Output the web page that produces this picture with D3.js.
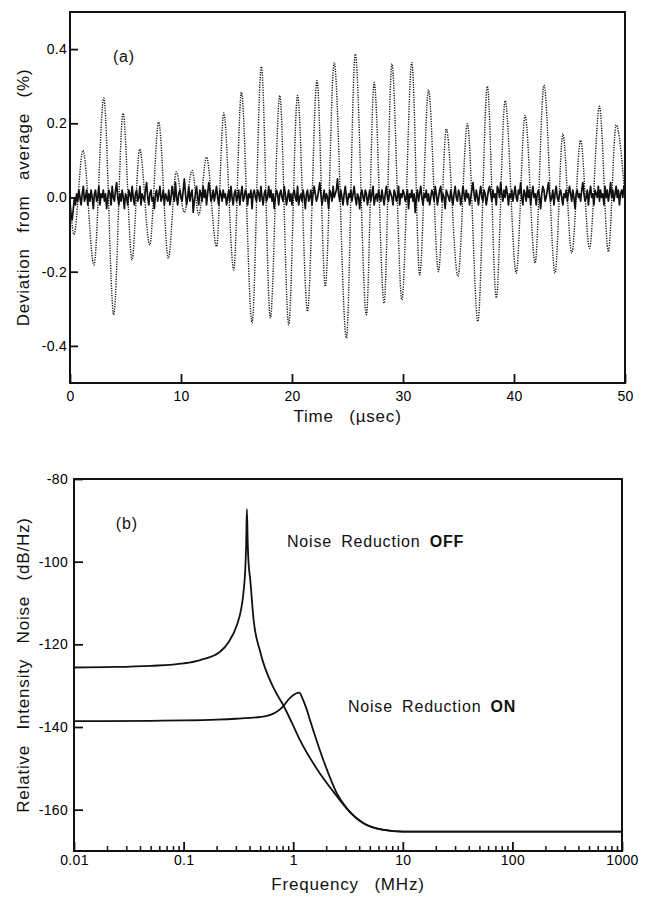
<!DOCTYPE html>
<html><head><meta charset="utf-8">
<script src="https://cdn.jsdelivr.net/npm/d3@7"></script>
<style>
html,body{margin:0;padding:0;background:#fff;}
svg{display:block;font-family:"Liberation Sans",Arial,Helvetica,sans-serif;}
.tick text{font-size:14px;fill:#000;letter-spacing:0.3px;}
.title{font-size:17px;letter-spacing:0.8px;word-spacing:10px;fill:#111;}
.note{font-size:16px;letter-spacing:0.8px;word-spacing:4px;fill:#111;}
</style></head><body>
<svg id="c" width="645" height="897"></svg>
<script>
// ---------- Panel (a) data ----------
const oscTime = [0, 0.35, 1.17, 2.16, 3.04, 3.94, 4.78, 5.59, 6.28, 7.18,
  7.99, 8.86, 9.58, 10.3, 11.0, 11.6, 12.3, 13.2, 13.85, 14.75,
  15.44, 16.4, 17.24, 18.05, 18.9, 19.7, 20.5, 21.4, 22.25, 23.0,
  23.8, 24.9, 25.7, 26.7, 27.4, 28.3, 29.0, 29.9, 30.8, 31.5,
  32.3, 33.2, 33.9, 34.95, 35.8, 36.75, 37.6, 38.4, 39.2, 40.2,
  41.0, 41.9, 42.7, 43.7, 44.4, 45.2, 46.0, 46.8, 47.7, 48.5,
  49.2, 50];
const oscValue = [0.0, -0.10, 0.127, -0.182, 0.268, -0.316, 0.227, -0.168, 0.13, -0.128,
  0.203, -0.164, 0.069, -0.04, 0.073, -0.047, 0.109, -0.132, 0.228, -0.195,
  0.284, -0.338, 0.353, -0.325, 0.275, -0.343, 0.275, -0.307, 0.315, -0.24,
  0.364, -0.379, 0.387, -0.316, 0.31, -0.285, 0.36, -0.276, 0.364, -0.209,
  0.29, -0.2, 0.185, -0.213, 0.199, -0.334, 0.30, -0.271, 0.261, -0.204,
  0.221, -0.177, 0.303, -0.204, 0.172, -0.15, 0.154, -0.137, 0.246, -0.146,
  0.196, 0.0];
const noiseStep = 0.1; // µs between samples of the reduced-noise trace
const noiseValue = [
  -0.02,-0.05,-0.06,-0.03,0.00,-0.02,0.01,-0.01,0.02,0.00,
  -0.02,0.01,0.03,-0.01,0.00,0.02,-0.02,0.01,-0.01,0.02,
  0.00,-0.03,0.01,0.02,-0.01,0.00,0.03,-0.02,0.01,0.00,
  0.02,-0.01,0.01,-0.03,0.00,0.02,0.01,-0.02,0.03,0.00,
  -0.01,0.02,0.04,0.00,-0.02,0.01,-0.01,0.02,0.00,-0.03,
  0.01,0.00,-0.02,0.02,0.01,-0.01,0.03,0.00,-0.02,0.01,
  0.02,-0.01,0.00,0.03,-0.02,0.01,0.00,-0.01,0.02,0.04,
  0.00,-0.02,0.01,0.02,-0.01,0.00,-0.03,0.01,0.02,-0.01,
  0.01,0.03,-0.01,0.00,0.02,-0.02,0.01,0.00,-0.01,0.02,
  -0.02,0.00,0.03,0.01,-0.01,0.04,0.00,-0.02,0.01,0.02,
  0.00,-0.01,0.02,0.05,0.01,-0.02,0.00,0.03,-0.01,0.01,
  0.02,-0.04,-0.01,0.01,0.03,0.00,-0.02,0.02,0.01,-0.01,
  0.03,0.00,0.02,-0.02,0.01,0.04,0.02,-0.01,0.00,0.02,
  -0.01,0.01,0.03,0.00,-0.02,0.02,0.01,-0.01,0.02,0.00,
  0.01,-0.02,0.00,0.02,-0.01,0.03,0.00,-0.02,0.01,0.02,
  -0.01,0.00,0.02,-0.02,0.01,0.03,-0.01,0.00,0.02,0.01,
  -0.02,0.01,0.00,0.02,-0.03,0.01,0.02,0.00,-0.01,0.02,
  0.01,-0.01,0.03,0.00,-0.02,0.01,0.02,-0.01,0.00,0.03,
  0.00,0.02,-0.01,0.01,-0.03,0.00,0.02,0.01,-0.02,0.01,
  0.02,0.00,-0.01,0.03,0.01,-0.02,0.00,0.02,-0.01,0.01,
  -0.02,0.01,0.02,0.00,-0.01,0.03,-0.02,0.00,0.01,-0.01,
  0.02,0.00,-0.03,0.01,0.02,-0.01,0.00,0.02,-0.02,0.01,
  0.03,0.01,-0.01,0.00,0.02,0.04,0.01,-0.02,0.00,0.02,
  -0.01,0.01,0.00,-0.03,0.02,0.01,-0.01,0.03,0.00,0.01,
  0.02,0.05,0.01,-0.01,0.02,0.00,-0.02,0.01,0.03,0.00,
  -0.02,0.01,0.00,0.02,-0.01,0.01,0.03,0.00,-0.02,0.01,
  0.00,-0.03,0.01,0.02,0.00,-0.01,0.02,0.01,-0.02,0.00,
  0.02,-0.01,0.01,0.03,-0.02,0.00,0.01,-0.01,0.02,0.00,
  -0.01,0.02,0.00,-0.02,0.01,0.03,0.00,-0.01,0.02,0.01,
  0.00,-0.02,0.02,0.01,-0.01,0.00,0.03,-0.02,0.01,0.00,
  0.02,0.01,-0.01,0.00,0.02,-0.03,0.01,0.00,0.02,-0.01,
  0.01,-0.04,0.00,0.02,-0.01,0.01,0.03,0.00,-0.02,0.01,
  0.00,0.02,-0.01,0.01,-0.02,0.00,0.02,0.01,-0.01,0.03,
  0.01,-0.02,0.00,0.02,0.03,-0.01,0.01,0.00,-0.03,0.02,
  0.01,0.00,-0.01,0.02,0.00,-0.02,0.01,0.03,0.00,-0.01,
  0.02,0.01,-0.02,0.00,0.03,0.01,-0.01,0.02,0.00,0.01,
  -0.02,0.00,0.02,0.04,0.01,-0.01,0.02,0.00,-0.02,0.01,
  0.03,0.00,-0.01,0.02,0.01,-0.02,0.00,0.02,0.03,0.01,
  -0.01,0.02,0.00,0.01,-0.02,0.03,0.02,0.00,0.04,0.01,
  -0.01,0.02,0.00,0.03,0.01,-0.02,0.01,0.00,0.02,-0.01,
  0.01,0.03,0.00,-0.01,0.02,0.01,0.04,0.00,-0.02,0.02,
  0.01,-0.01,0.03,0.00,0.02,-0.02,0.01,0.03,0.00,0.01,
  -0.02,0.01,0.02,0.00,-0.03,0.01,0.03,0.02,-0.01,0.00,
  0.02,0.04,0.01,-0.01,0.00,0.02,-0.02,0.01,0.03,0.00,
  -0.01,0.01,0.02,0.00,-0.02,0.01,0.00,0.02,-0.01,0.01,
  0.03,0.01,-0.01,0.02,0.00,-0.03,0.01,0.02,0.00,0.01,
  -0.01,0.02,0.04,0.01,-0.01,0.00,0.02,-0.02,0.01,0.03,
  0.00,0.01,-0.02,0.02,0.01,0.00,0.03,-0.01,0.02,0.00,
  0.01,-0.02,0.03,0.00,0.02,-0.01,0.01,0.04,0.00,0.02,
  -0.01,0.01,0.03,0.00,0.02,-0.02,0.01,0.02,0.00,0.03,
  0.01];
const timeTicks = [0, 10, 20, 30, 40, 50];
const devTicks = [-0.4, -0.2, 0.0, 0.2, 0.4];

// ---------- Panel (b) data ----------
const offFreq = [0.01, 0.02, 0.05, 0.1, 0.142, 0.215, 0.26, 0.306, 0.335, 0.352,
  0.365, 0.372, 0.378, 0.385, 0.392, 0.405, 0.434, 0.5, 0.66, 0.815,
  0.97, 1.16, 1.64, 2.33, 3.09, 4.38, 6.7, 10, 100, 1000];
const offDb = [-125.6, -125.5, -125.2, -124.6, -123.8, -121.8, -119.3, -115.4, -111.5, -107.4,
  -102.0, -96.2, -87.3, -96.0, -100.5, -104.2, -113.8, -121.8, -130.5, -134.8,
  -138.9, -143.3, -150.1, -155.7, -159.8, -163.3, -164.9, -165.3, -165.3, -165.3];
const onFreq = [0.01, 0.05, 0.1, 0.2, 0.3, 0.4, 0.575, 0.79, 0.94, 1.06,
  1.14, 1.22, 1.33, 1.43, 1.89, 2.51, 3.09, 4.38, 6.7, 10, 100, 1000];
const onDb = [-138.6, -138.5, -138.4, -138.2, -138.0, -137.8, -137.3, -135.3, -132.9, -131.9,
  -131.7, -133.2, -135.8, -138.5, -148.1, -156.1, -159.7, -163.3, -164.9, -165.3, -165.3, -165.3];
const freqTicks = [0.01, 0.1, 1, 10, 100, 1000];
const freqTickLabels = ["0.01", "0.1", "1", "10", "100", "1000"];
const minorMultipliers = [2, 3, 4, 5, 6, 7, 8, 9];
const rinTicks = [-160, -140, -120, -100, -80];

// ---------- Drawing ----------
const svg = d3.select("#c");
const ink = "#111";

// Panel (a)
const xa = d3.scaleLinear().domain([0, 50]).range([70, 625]);
const ya = d3.scaleLinear().domain([-0.5, 0.5]).range([383, 12]);
const ga = svg.append("g");

ga.append("g").attr("transform", `translate(0,${ya(-0.5)})`)
  .call(d3.axisBottom(xa).tickValues(timeTicks).tickSizeInner(-9).tickSizeOuter(0).tickPadding(8).tickFormat(d => String(d)))
  .call(g => g.select(".domain").remove())
  .call(g => g.selectAll(".tick line").attr("stroke", ink).attr("stroke-width", 1.8));
ga.append("g").attr("transform", `translate(${xa(0)},0)`)
  .call(d3.axisLeft(ya).tickValues(devTicks).tickSizeInner(-8).tickSizeOuter(0).tickPadding(3).tickFormat(d => d.toFixed(1)))
  .call(g => g.select(".domain").remove())
  .call(g => g.selectAll(".tick line").attr("stroke", ink).attr("stroke-width", 1.8));

ga.append("rect").attr("x", xa(0)).attr("y", ya(0.5))
  .attr("width", xa(50) - xa(0)).attr("height", ya(-0.5) - ya(0.5))
  .attr("fill", "none").attr("stroke", ink).attr("stroke-width", 2);

const osc = oscTime.map((t, i) => [t, oscValue[i]]);
ga.append("path").datum(osc)
  .attr("d", d3.line().x(d => xa(d[0])).y(d => ya(d[1])).curve(d3.curveMonotoneX))
  .attr("fill", "none").attr("stroke", ink).attr("stroke-width", 1.4)
  .attr("stroke-dasharray", "1.2,1.3");

const noise = noiseValue.map((v, i) => [i * noiseStep, v]);
ga.append("path").datum(noise)
  .attr("d", d3.line().x(d => xa(d[0])).y(d => ya(d[1])))
  .attr("fill", "none").attr("stroke", ink).attr("stroke-width", 1.7)
  .attr("stroke-linejoin", "round");

ga.append("text").attr("class", "note").attr("x", xa(3.87)).attr("y", ya(0.365)).text("(a)");
ga.append("text").attr("class", "title").attr("text-anchor", "middle")
  .attr("x", (xa(0) + xa(50)) / 2).attr("y", 422).text("Time (\u00B5sec)");
ga.append("text").attr("class", "title").attr("text-anchor", "middle")
  .attr("transform", `translate(29,${(ya(-0.5) + ya(0.5)) / 2}) rotate(-90)`)
  .text("Deviation from average (%)");

// Panel (b)
const xb = d3.scaleLog().domain([0.01, 1000]).range([74, 622]);
const yb = d3.scaleLinear().domain([-170, -80]).range([851, 479]);
const gb = svg.append("g");

const minorTicks = [];
freqTicks.slice(0, -1).forEach(dec => minorMultipliers.forEach(m => minorTicks.push(dec * m)));

gb.append("g").attr("transform", `translate(0,${yb(-170)})`)
  .call(d3.axisBottom(xb).tickValues(minorTicks).tickSizeInner(-5).tickSizeOuter(0).tickFormat(""))
  .call(g => g.select(".domain").remove())
  .call(g => g.selectAll(".tick line").attr("stroke", ink).attr("stroke-width", 1.5));
gb.append("g").attr("transform", `translate(0,${yb(-170)})`)
  .call(d3.axisBottom(xb).tickValues(freqTicks).tickSizeInner(-9).tickSizeOuter(0).tickPadding(4)
    .tickFormat((d, i) => freqTickLabels[i]))
  .call(g => g.select(".domain").remove())
  .call(g => g.selectAll(".tick line").attr("stroke", ink).attr("stroke-width", 1.8));
gb.append("g").attr("transform", `translate(${xb(0.01)},0)`)
  .call(d3.axisLeft(yb).tickValues(rinTicks).tickSizeInner(-9).tickSizeOuter(0).tickPadding(6).tickFormat(d => String(d)))
  .call(g => g.select(".domain").remove())
  .call(g => g.selectAll(".tick line").attr("stroke", ink).attr("stroke-width", 1.8));

gb.append("rect").attr("x", xb(0.01)).attr("y", yb(-80))
  .attr("width", xb(1000) - xb(0.01)).attr("height", yb(-170) - yb(-80))
  .attr("fill", "none").attr("stroke", ink).attr("stroke-width", 2);

const lineB = d3.line().x(d => xb(d[0])).y(d => yb(d[1])).curve(d3.curveMonotoneX);
gb.append("path").datum(offFreq.map((f, i) => [f, offDb[i]]))
  .attr("d", lineB).attr("fill", "none").attr("stroke", ink).attr("stroke-width", 1.8);
gb.append("path").datum(onFreq.map((f, i) => [f, onDb[i]]))
  .attr("d", lineB).attr("fill", "none").attr("stroke", ink).attr("stroke-width", 1.8);

gb.append("text").attr("class", "note").attr("x", xb(0.0241)).attr("y", yb(-92.1)).text("(b)");
const offT = gb.append("text").attr("class", "note").attr("x", xb(0.878)).attr("y", yb(-96.5));
offT.append("tspan").text("Noise Reduction ");
offT.append("tspan").attr("font-weight", "bold").text("OFF");
const onT = gb.append("text").attr("class", "note").attr("x", xb(3.16)).attr("y", yb(-136.4));
onT.append("tspan").text("Noise Reduction ");
onT.append("tspan").attr("font-weight", "bold").text("ON");

gb.append("text").attr("class", "title").attr("text-anchor", "middle")
  .attr("x", (xb(0.01) + xb(1000)) / 2).attr("y", 890).text("Frequency (MHz)");
gb.append("text").attr("class", "title").attr("text-anchor", "middle")
  .attr("transform", `translate(29,${(yb(-170) + yb(-80)) / 2}) rotate(-90)`)
  .text("Relative Intensity Noise (dB/Hz)");
</script>
</body></html>
